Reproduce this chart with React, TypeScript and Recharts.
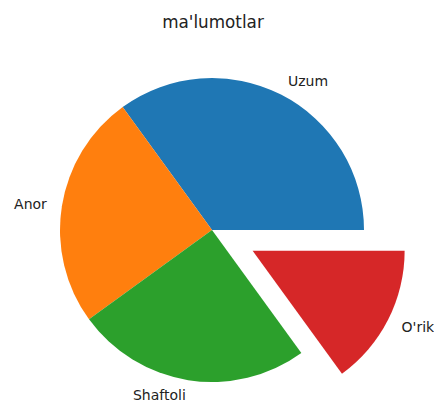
import React from 'react';
import { PieChart, Pie, Cell } from 'recharts';

const names = ['Uzum', 'Anor', 'Shaftoli', "O'rik"];
const values = [35, 25, 25, 15];
const colors = ['#1f77b4', '#ff7f0e', '#2ca02c', '#d62728'];
const explode = [0, 0, 0, 0.3];

const data = names.map((name, i) => ({ name, value: values[i] }));

const CX = 212;
const CY = 230;
const R = 152;
const RADIAN = Math.PI / 180;

const total = values.reduce((a, b) => a + b, 0);
const explodedIndex = explode.findIndex((e) => e > 0);
const startOf = values.slice(0, explodedIndex).reduce((a, b) => a + b, 0);
const midAngle = ((startOf + values[explodedIndex] / 2) / total) * 360;
const offX = Math.cos(midAngle * RADIAN) * explode[explodedIndex] * R;
const offY = -Math.sin(midAngle * RADIAN) * explode[explodedIndex] * R;

const makeLabel = (show: (i: number) => boolean) => (props: any) => {
  const { cx, cy, midAngle: a, outerRadius, index, name } = props;
  if (!show(index)) return null;
  const r = outerRadius * 1.1;
  const x = cx + r * Math.cos(a * RADIAN);
  const y = cy - r * Math.sin(a * RADIAN);
  return (
    <text
      x={x}
      y={y}
      textAnchor={Math.cos(a * RADIAN) >= 0 ? 'start' : 'end'}
      dominantBaseline="central"
      fill="#222"
      fontSize={14}
      fontFamily="DejaVu Sans"
    >
      {name}
    </text>
  );
};

export default function App() {
  return (
    <div style={{ position: 'absolute', left: 0, top: 0, width: 434, height: 403, background: '#fff' }}>
      <div
        style={{
          position: 'absolute',
          top: 12,
          left: 0,
          width: 426,
          textAlign: 'center',
          fontFamily: 'DejaVu Sans',
          fontSize: 16.8,
          lineHeight: '20px',
          color: '#222',
        }}
      >
        ma'lumotlar
      </div>
      <PieChart width={434} height={403} margin={{ top: 0, right: 0, bottom: 0, left: 0 }}>
        <Pie
          data={data}
          dataKey="value"
          nameKey="name"
          cx={CX}
          cy={CY}
          outerRadius={R}
          startAngle={0}
          endAngle={360}
          stroke="none"
          labelLine={false}
          label={makeLabel((i) => explode[i] === 0)}
          isAnimationActive={false}
        >
          {data.map((d, i) => (
            <Cell key={d.name} fill={explode[i] === 0 ? colors[i] : 'none'} />
          ))}
        </Pie>
        <Pie
          data={data}
          dataKey="value"
          nameKey="name"
          cx={CX + offX}
          cy={CY + offY}
          outerRadius={R}
          startAngle={0}
          endAngle={360}
          stroke="none"
          labelLine={false}
          label={makeLabel((i) => explode[i] > 0)}
          isAnimationActive={false}
        >
          {data.map((d, i) => (
            <Cell key={d.name} fill={explode[i] > 0 ? colors[i] : 'none'} />
          ))}
        </Pie>
      </PieChart>
    </div>
  );
}
